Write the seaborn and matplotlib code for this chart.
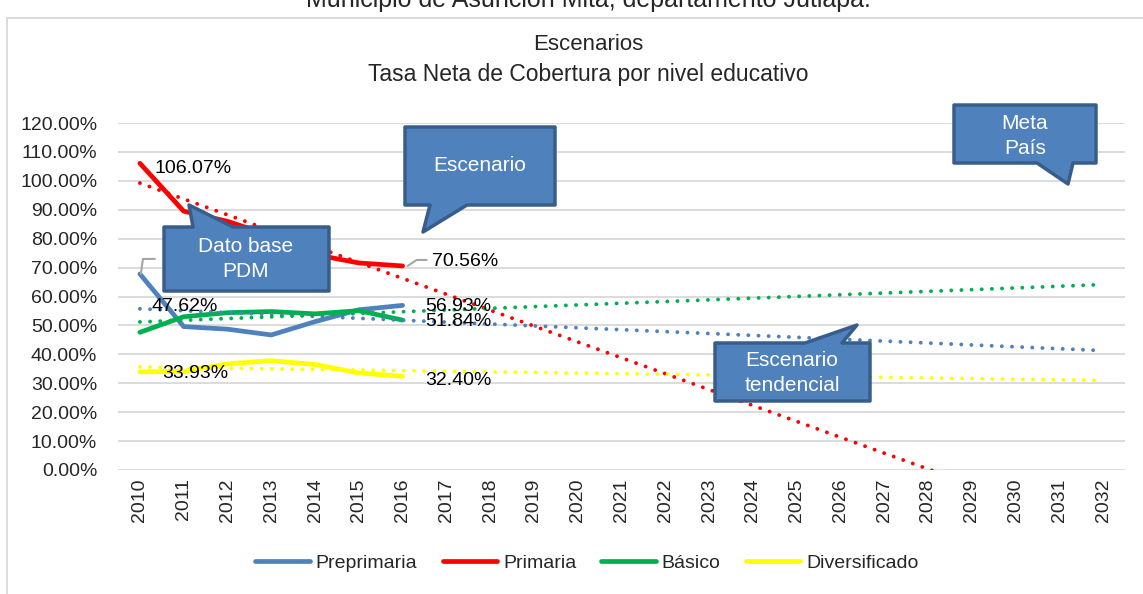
import numpy as np
import pandas as pd
import seaborn as sns
import matplotlib.pyplot as plt
from matplotlib.patches import Polygon, Rectangle
from matplotlib.lines import Line2D

# %% Datos
anios = [2010, 2011, 2012, 2013, 2014, 2015, 2016]
anios_proy = list(range(2010, 2033))
preprimaria = [67.80, 49.60, 48.70, 46.70, 51.30, 55.40, 56.93]
primaria = [106.07, 89.50, 86.00, 81.00, 74.50, 71.60, 70.56]
basico = [47.62, 53.00, 54.40, 54.80, 54.00, 55.10, 51.84]
diversificado = [33.93, 34.10, 36.70, 37.80, 36.50, 33.55, 32.40]

niveles = ['Preprimaria', 'Primaria', 'Básico', 'Diversificado']
colores = ['#4f81bd', '#ff0000', '#00b050', '#ffff00']
series = [preprimaria, primaria, basico, diversificado]

df = pd.DataFrame({
    'anio': anios * 4,
    'valor': preprimaria + primaria + basico + diversificado,
    'nivel': [n for n in niveles for _ in anios],
})

W, H = 1143, 594


def fpx(x, y):
    # pixel (desde arriba) -> fraccion de figura
    return (x / W, 1 - y / H)


# %% Figura
sns.set_style('white')
plt.rcParams['font.family'] = ['Liberation Sans', 'DejaVu Sans']

fig = plt.figure(figsize=(W / 100, H / 100), dpi=100)
ax = fig.add_axes([118 / W, 1 - 470 / H, (1125 - 118) / W, (470 - 123) / H])

sns.lineplot(data=df, x='anio', y='valor', hue='nivel', hue_order=niveles,
             palette=colores, lw=3.4, ax=ax, zorder=3)

# lineas de tendencia (ajuste lineal, como en Excel)
for vals, col in zip(series, colores):
    coef = np.polyfit(anios, vals, 1)
    tend = np.polyval(coef, anios_proy)
    sns.lineplot(x=anios_proy, y=tend, color=col, lw=2.8, ax=ax, zorder=4,
                 linestyle=(0, (0.01, 2.6)), dash_capstyle='round')

ax.set_xlim(2009.5, 2032.5)
ax.set_ylim(0, 120)
ax.set_xticks(anios_proy)
ax.set_xticklabels([str(a) for a in anios_proy], rotation=90, fontsize=14)
ax.set_yticks(np.arange(0, 121, 10))
ax.set_yticklabels(['%.2f%%' % v for v in np.arange(0, 121, 10)], fontsize=14)
ax.tick_params(axis='y', length=0, pad=15)
ax.tick_params(axis='x', length=0, pad=6)
ax.grid(axis='y', color='#d9d9d9', lw=1.3)
ax.set_axisbelow(True)
ax.set_xlabel('')
ax.set_ylabel('')
sns.despine(ax=ax, left=True, bottom=True)

# etiquetas de datos
etiquetas = [
    (2010, primaria[0], '106.07%', (15, -5)),
    (2010, basico[0], '47.62%', (12, 26)),
    (2010, diversificado[0], '33.93%', (22, -2)),
    (2010, preprimaria[0], '67.80%', (22, 16)),
    (2016, primaria[-1], '70.56%', (29, 4)),
    (2016, preprimaria[-1], '56.93%', (23, -1)),
    (2016, basico[-1], '51.84%', (23, -1)),
    (2016, diversificado[-1], '32.40%', (23, -4)),
]
for x, y, txt, off in etiquetas:
    ax.annotate(txt, (x, y), xytext=off, textcoords='offset pixels',
                ha='left', va='center', fontsize=14, color='black', zorder=6)

# lineas guia
for x, y, pts in [(2016, primaria[-1], [(5, 0), (14, 6), (24, 6)]),
                  (2010, preprimaria[0], [(1, 0), (3, 15), (15, 15)])]:
    x0, y0 = ax.transData.transform((x, y))
    xs = [x0 + p[0] for p in pts]
    ys = [y0 + p[1] for p in pts]
    ax.add_line(Line2D(xs, ys, transform=None, color='#a6a6a6', lw=1.5, zorder=6))

# leyenda
sns.move_legend(ax, 'center', bbox_to_anchor=(587 / W, 31 / H),
                bbox_transform=fig.transFigure, ncol=4, frameon=False,
                title=None, fontsize=14, handlelength=2.8,
                columnspacing=1.3, handletextpad=0.3)

# llamadas (callouts)
llamadas = [
    ([(164, 227), (193, 227), (189, 205), (233, 227), (329, 227), (329, 291), (164, 291)],
     (246, 259), 'Dato base\nPDM'),
    ([(405, 127), (555, 127), (555, 205), (467, 205), (423, 232), (430, 205), (405, 205)],
     (480, 166), 'Escenario'),
    ([(954, 105), (1096, 105), (1096, 163), (1073, 163), (1068, 184), (1037, 163), (954, 163)],
     (1025, 136), 'Meta\nPaís'),
    ([(715, 343), (805, 343), (857, 325), (842, 343), (870, 343), (870, 401), (715, 401)],
     (792, 373), 'Escenario\ntendencial'),
]
for verts, centro, txt in llamadas:
    fig.add_artist(Polygon([fpx(*v) for v in verts], closed=True,
                           transform=fig.transFigure, facecolor='#4f81bd',
                           edgecolor='#385d8a', lw=2.5, joinstyle='round', zorder=10))
    fig.text(*fpx(*centro), txt, ha='center', va='center', color='white',
             fontsize=15, linespacing=1.45, zorder=11)

# titulo y marco
fig.text(*fpx(588, 45), 'Escenarios', ha='center', va='center', fontsize=16)
fig.text(*fpx(588, 75), 'Tasa Neta de Cobertura por nivel educativo',
         ha='center', va='center', fontsize=16.5)
fig.text(588 / W, 1.0, 'Municipio de Asunción Mita, departamento Jutiapa.',
         ha='center', va='center', fontsize=18)
fig.add_artist(Rectangle(fpx(7, 640), 1.1, (640 - 18) / H, transform=fig.transFigure,
                         fill=False, edgecolor='#d9d9d9', lw=1.3, zorder=0))

plt.savefig('out.png', dpi=100)
